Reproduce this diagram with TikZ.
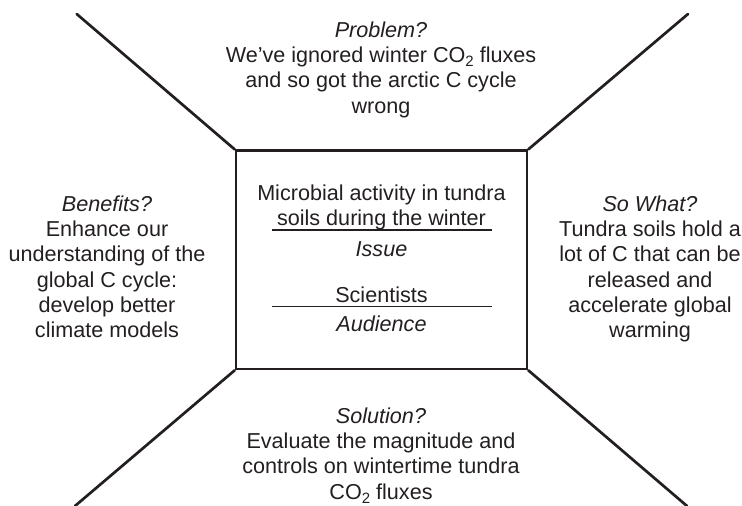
\documentclass[tikz,border=0pt]{standalone}
\usepackage{fontspec}
\setmainfont{Liberation Sans}
\definecolor{ink}{HTML}{231F20}
\newcommand{\subtwo}{\raisebox{-0.2em}{\fontsize{15}{15}\selectfont 2}}
\begin{document}
\begin{tikzpicture}[x=1pt,y=-1pt,
  txt/.style={inner sep=0pt, align=center, text=ink, font=\fontsize{21.6}{25.3}\selectfont},
  edge/.style={draw=ink, line width=2.7pt, line cap=round},
  rule/.style={draw=ink, line width=1.1pt}]
\useasboundingbox (0,0) rectangle (742,506);
\node[draw=ink, line width=2.7pt, minimum width=291pt, minimum height=218.3pt, inner sep=0pt] (box) at (381.5,259.85) {};
\coordinate (tl) at (76.7,14);
\coordinate (tr) at (688,14);
\coordinate (bl) at (75,506);
\coordinate (br) at (687,506);
\draw[edge] (box.north west) -- (tl);
\draw[edge] (box.north east) -- (tr);
\draw[edge] (box.south west) -- (bl);
\draw[edge] (box.south east) -- (br);
% outer texts
\node[txt, anchor=north] (prob) at (381,19.3) {\strut\textit{Problem?}\\We’ve ignored winter CO\subtwo{} fluxes\\and so got the arctic C cycle\\wrong};
\node[txt, anchor=north] (ben) at (107,193.3) {\strut\textit{Benefits?}\\Enhance our\\understanding of the\\global C cycle:\\develop better\\climate models};
\node[txt, anchor=north] (sowhat) at (650,193.3) {\strut\textit{So What?}\\Tundra soils hold a\\lot of C that can be\\released and\\accelerate global\\warming};
\node[txt, anchor=north] (sol) at (381,405.3) {\strut\textit{Solution?}\\Evaluate the magnitude and\\controls on wintertime tundra\\CO\subtwo{} fluxes};
% inner texts
\node[txt, anchor=base] (iss1) at (381.5,200) {Microbial activity in tundra};
\node[txt, anchor=base] (iss2) at (381.5,225) {soils during the winter};
\coordinate (r1a) at (271.7,230);
\coordinate (r1b) at (491.7,230);
\draw[rule] (r1a) -- (r1b);
\node[txt, anchor=base] (iss) at (381.5,256) {\textit{Issue}};
\node[txt, anchor=base] (aud1) at (381.5,302) {Scientists};
\coordinate (r2a) at (271.7,306.7);
\coordinate (r2b) at (491.7,306.7);
\draw[rule] (r2a) -- (r2b);
\node[txt, anchor=base] (aud) at (381.5,331) {\textit{Audience}};
\end{tikzpicture}
\end{document}
